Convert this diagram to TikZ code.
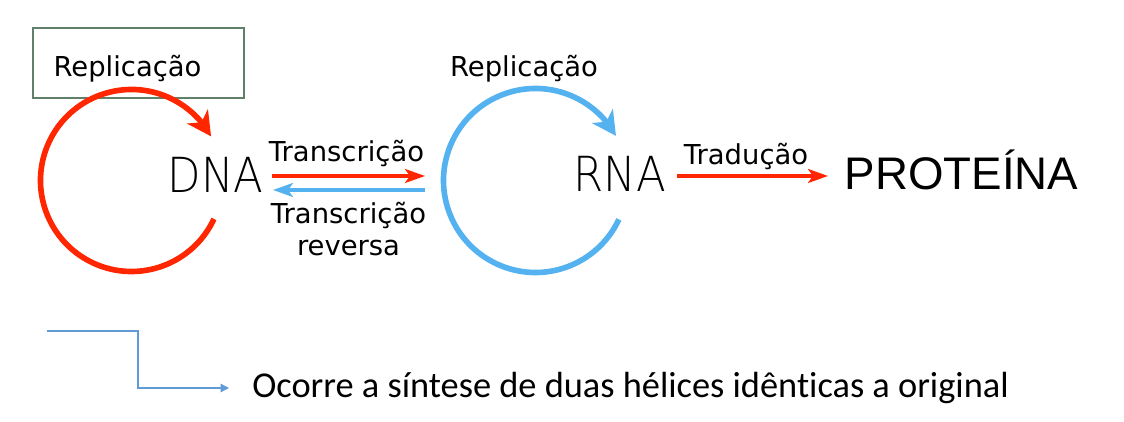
\documentclass[tikz,border=0pt]{standalone}
\usepackage{fontspec}
\setmainfont{DejaVu Sans}
\newfontfamily\thinfont{DejaVu Sans ExtraLight}
\newfontfamily\protfont{Liberation Sans}
\newfontfamily\notefont[Ligatures=NoCommon]{Carlito}
\usetikzlibrary{arrows.meta,bending}
\definecolor{repred}{RGB}{255,38,0}
\definecolor{repblue}{RGB}{85,178,240}
\definecolor{boxgreen}{RGB}{96,128,106}
\definecolor{noteblue}{RGB}{95,155,215}
\tikzset{
  lbl/.style={font=\fontsize{15.6}{18.2}\selectfont,anchor=base,inner sep=0pt},
  mol/.style={font=\thinfont\fontsize{27.5}{27.5}\selectfont,anchor=base,inner sep=0pt},
  loopred/.style={repred,line width=3.2pt,-{Stealth[length=4.8mm,width=5mm,inset=1.4mm]}},
  loopblue/.style={repblue,line width=3.2pt,-{Stealth[length=4.8mm,width=5mm,inset=1.4mm]}},
  flowred/.style={repred,line width=1.8pt,-{Stealth[length=4mm,width=2.8mm,inset=1mm]}},
  flowblue/.style={repblue,line width=1.8pt,-{Stealth[length=4mm,width=2.8mm,inset=1mm]}}
}
\begin{document}
\begin{tikzpicture}
\fill[white] (0,0) rectangle (22.48,8.44);
\useasboundingbox (0,0) rectangle (22.48,8.44);

% replication box and label
\node[draw=boxgreen,line width=0.6pt,minimum width=4.22cm,minimum height=1.4cm,inner sep=0pt]
  (repbox) at (2.77,7.18) {};
\node[lbl] (repdna) at (2.55,6.90) {Replicação};
\node[lbl] (reprna) at (10.48,6.90) {Replicação};

% molecules
\node[mol] (dna) at (4.31,4.58) {\scalebox{0.9}[1]{DNA}};
\node[mol] (rna) at (12.40,4.60) {\scalebox{0.9}[1]{RNA}};
\node[font=\protfont\fontsize{26}{26}\selectfont,anchor=base,inner sep=0pt]
  (prot) at (19.23,4.64) {PROTEÍNA};

% replication loops
\coordinate (cdna) at (2.63,4.83);
\coordinate (crna) at (10.71,4.83);
\draw[loopred] (cdna) ++(-25:1.82) arc[start angle=-25,end angle=-331,radius=1.82];
\draw[loopblue] (crna) ++(-25:1.84) arc[start angle=-25,end angle=-331,radius=1.84];

% transcription arrows
\coordinate (tra) at (5.44,4.92);
\coordinate (trb) at (8.50,4.92);
\coordinate (rva) at (8.50,4.64);
\coordinate (rvb) at (5.46,4.64);
\draw[flowred] (tra) -- (trb);
\draw[flowblue] (rva) -- (rvb);
\node[lbl] (trans) at (6.93,5.20) {Transcrição};
\node[lbl,align=center] (rev) at (6.97,3.33) {Transcrição\\reversa};

% translation
\coordinate (tda) at (13.54,4.92);
\coordinate (tdb) at (16.56,4.92);
\draw[flowred] (tda) -- (tdb);
\node[lbl] (trad) at (14.92,5.14) {Tradução};

% note
\node[font=\notefont\fontsize{20.7}{20.7}\selectfont,anchor=base west,inner sep=0pt]
  (note) at (5.04,0.48) {Ocorre a síntese de duas hélices idênticas a original};
\coordinate (nta) at (0.94,1.82);
\coordinate (ntb) at (4.58,0.68);
\draw[noteblue,line width=0.8pt,-{Triangle[length=1.7mm,width=1.7mm]}]
  (nta) -| (2.76,0.68) -- (ntb);
\end{tikzpicture}
\end{document}
